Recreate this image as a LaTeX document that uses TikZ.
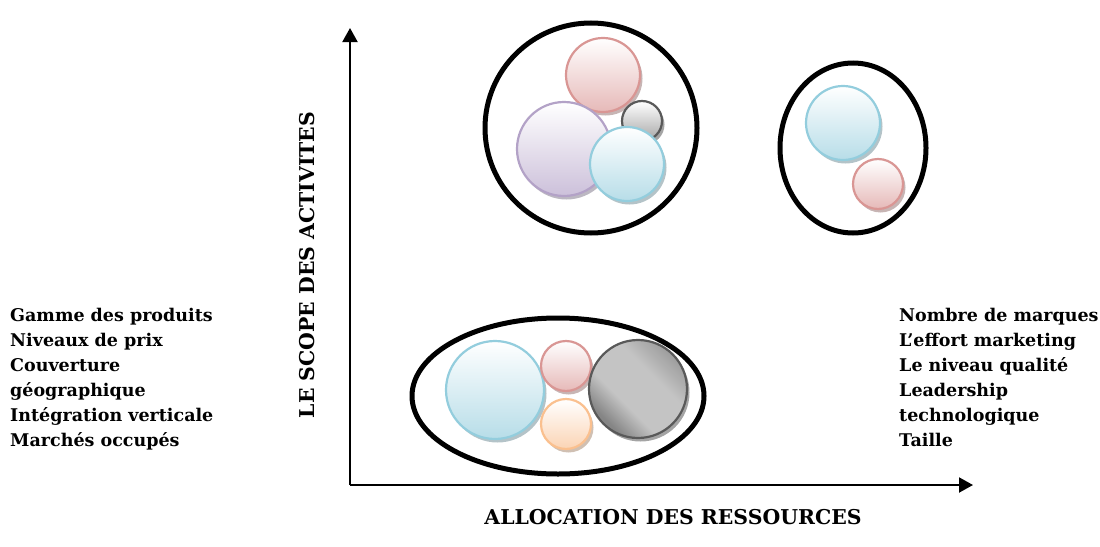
\documentclass[tikz,border=0pt]{standalone}
\usepackage{fontspec}
\setmainfont{DejaVu Serif}
\usetikzlibrary{arrows.meta}

% bubble palette: border and lower gradient colour
\definecolor{pinkB}{HTML}{D99694}\definecolor{pinkF}{HTML}{E6B9B8}
\definecolor{purpB}{HTML}{B3A2C7}\definecolor{purpF}{HTML}{CCC0DA}
\definecolor{cyanB}{HTML}{93CDDD}\definecolor{cyanF}{HTML}{B7DDE8}
\definecolor{greyB}{HTML}{595959}\definecolor{greyF}{HTML}{A6A6A6}
\definecolor{orngB}{HTML}{FAC08F}\definecolor{orngF}{HTML}{FBD4B4}
\definecolor{metalD}{HTML}{858585}\definecolor{metalL}{HTML}{C4C4C4}
\definecolor{metalR}{HTML}{979797}

\pgfdeclarehorizontalshading{metal}{100bp}{color(0bp)=(metalD); color(27bp)=(metalD);
  color(40bp)=(metalL); color(60bp)=(metalL); color(77bp)=(metalR); color(100bp)=(metalR)}

% glossy bubble: x, y, radius, border colour, lower fill colour
\newcommand\bubble[5]{%
  \fill[#4!60!black, opacity=0.45] (#1+2.5,#2+3.5) circle[radius=#3pt];
  \shade[top color=white, bottom color=#5] (#1,#2) circle[radius=#3pt];
  \draw[#4, line width=2.2pt] (#1,#2) circle[radius=#3pt];
}

\tikzset{
  axis/.style={line width=2pt, -{Triangle[length=14pt,width=15pt]}},
  group/.style={line width=5pt, black},
  listtext/.style={font=\fontsize{17.5}{21}\selectfont\bfseries, inner sep=0pt, anchor=base west},
  axislabel/.style={font=\fontsize{20.4}{24}\selectfont\bfseries, inner sep=0pt, anchor=base},
}

\begin{document}
\begin{tikzpicture}[x=1pt, y=-1pt]
\useasboundingbox (0,0) rectangle (1100,546);

% axes
\coordinate (origin) at (350,485);
\coordinate (ytip) at (350,28);
\coordinate (xtip) at (973,485);
\draw[axis] (origin) -- (ytip);
\draw[axis] (origin) -- (xtip);

% axis titles
\node[axislabel, rotate=90] (ylabel) at (314,265) {LE SCOPE DES ACTIVITES};
\node[axislabel] (xlabel) at (673,524) {ALLOCATION DES RESSOURCES};

% side lists
\foreach \t [count=\i] in {Gamme des produits, Niveaux de prix, Couverture, géographique, Intégration verticale, Marchés occupés}
  \node[listtext] (left\i) at (10,296+25*\i) {\t};
\foreach \t [count=\i] in {Nombre de marques, L’effort marketing, Le niveau qualité, Leadership, technologique, Taille}
  \node[listtext] (right\i) at (899,296+25*\i) {\t};

% group outlines
\draw[group] (591,128) ellipse[x radius=106pt, y radius=105pt];
\draw[group] (853,148) ellipse[x radius=73pt, y radius=85pt];
\draw[group] (558,396) ellipse[x radius=146pt, y radius=78pt];

% upper-left group
\bubble{603}{75}{37}{pinkB}{pinkF}
\bubble{642}{121}{20}{greyB}{greyF}
\bubble{564}{149}{47}{purpB}{purpF}
\bubble{627}{164}{37}{cyanB}{cyanF}

% upper-right group
\bubble{843}{123}{37}{cyanB}{cyanF}
\bubble{878}{184}{25}{pinkB}{pinkF}

% lower group
\bubble{495}{390}{49}{cyanB}{cyanF}
\bubble{566}{366}{25}{pinkB}{pinkF}
\bubble{566}{424}{25}{orngB}{orngF}
\fill[greyB!60!black, opacity=0.45] (640.5,392.5) circle[radius=49pt];
\shade[shading=metal, shading angle=45] (638,389) circle[radius=49pt];
\draw[greyB, line width=2.2pt] (638,389) circle[radius=49pt];
\end{tikzpicture}
\end{document}
